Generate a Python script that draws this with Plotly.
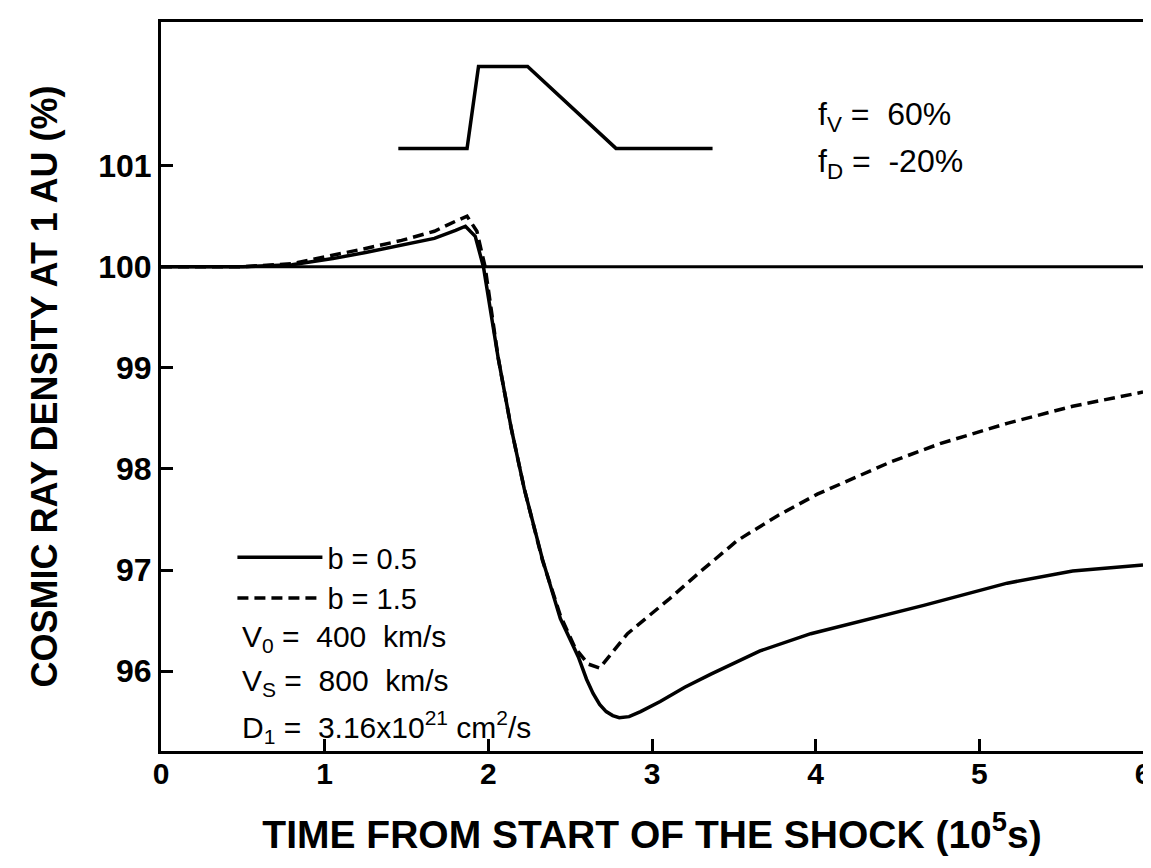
import plotly.graph_objects as go

# ---- data ----
t_b05 = [0.0, 0.5, 0.8, 1.05, 1.25, 1.47, 1.67, 1.8, 1.86, 1.92, 1.97, 2.06, 2.14, 2.22,
         2.33, 2.44, 2.55, 2.6, 2.64, 2.68, 2.72, 2.76, 2.8, 2.86, 2.93, 3.05, 3.2, 3.36,
         3.66, 3.97, 4.27, 4.66, 5.17, 5.57, 6.0]
n_b05 = [100.0, 100.0, 100.02, 100.08, 100.14, 100.21, 100.28, 100.36, 100.40, 100.30,
         100.0, 99.1, 98.4, 97.8, 97.11, 96.52, 96.14, 95.92, 95.78, 95.67, 95.6, 95.56,
         95.54, 95.55, 95.6, 95.7, 95.84, 95.97, 96.2, 96.37, 96.49, 96.65, 96.87, 96.99,
         97.05]

t_b15 = [0.0, 0.5, 0.8, 1.05, 1.25, 1.47, 1.67, 1.8, 1.87, 1.93, 1.98, 2.06, 2.14, 2.22,
         2.33, 2.44, 2.48, 2.53, 2.61, 2.68, 2.75, 2.85, 3.11, 3.3, 3.52, 3.77, 4.01,
         4.27, 4.46, 4.76, 5.17, 5.57, 6.0]
n_b15 = [100.0, 100.0, 100.03, 100.11, 100.18, 100.26, 100.35, 100.45, 100.50, 100.35,
         100.0, 99.1, 98.4, 97.8, 97.1, 96.55, 96.40, 96.23, 96.07, 96.03, 96.17, 96.37,
         96.72, 96.99, 97.29, 97.54, 97.75, 97.94, 98.07, 98.25, 98.45, 98.62, 98.76]

# reference level
ref_t = [0.0, 6.0]
ref_n = [100.0, 100.0]

# inset: shock speed profile (schematic, drawn in the same axes)
prof_t = [1.45, 1.87, 1.94, 2.24, 2.78, 3.37]
prof_n = [101.17, 101.17, 101.98, 101.98, 101.17, 101.17]

x_ticks = [0, 1, 2, 3, 4, 5, 6]
y_ticks = [96, 97, 98, 99, 100, 101]

FONT = "Liberation Sans"
BLACK = "#000000"

# figure margins (px)
ML, MR, MT, MB = 153, 8, 14, 125
W, H = 1151, 868
OFF_X, OFF_Y = 7, 6  # page offset observed in the rendered picture

fig = go.Figure()

fig.add_trace(go.Scatter(x=ref_t, y=ref_n, mode="lines", showlegend=False,
                         line=dict(color=BLACK, width=3), hoverinfo="skip"))
fig.add_trace(go.Scatter(x=prof_t, y=prof_n, mode="lines", showlegend=False,
                         line=dict(color=BLACK, width=3.5)))
fig.add_trace(go.Scatter(x=t_b05, y=n_b05, mode="lines", name="b = 0.5",
                         line=dict(color=BLACK, width=3.5)))
fig.add_trace(go.Scatter(x=t_b15, y=n_b15, mode="lines", name="b = 1.5",
                         line=dict(color=BLACK, width=3.5, dash="11px,6px")))


def px_x(px):
    # screen px -> paper x
    return (px - OFF_X - ML) / float(W - ML - MR)


def px_y(py):
    # screen px -> paper y
    return (H - MB + OFF_Y - py) / float(H - MT - MB)


par_font = dict(family=FONT, size=30, color=BLACK)
f_font = dict(family=FONT, size=32, color=BLACK)
SP = "&nbsp;"

annotations = [
    dict(text="V<sub>0</sub> =" + SP * 2 + "400" + SP * 2 + "km/s", x=px_x(240), y=px_y(636), font=par_font),
    dict(text="V<sub>S</sub> =" + SP * 2 + "800" + SP * 2 + "km/s", x=px_x(240), y=px_y(680), font=par_font),
    dict(text="D<sub>1</sub> =" + SP + " 3.16x10<sup>21</sup> cm<sup>2</sup>/s", x=px_x(240), y=px_y(725), font=par_font),
    dict(text="f<sub>V</sub> =" + SP + " 60%", x=px_x(820), y=px_y(114), font=f_font),
    dict(text="f<sub>D</sub> =" + SP + " -20%", x=px_x(820), y=px_y(162), font=f_font),
]
for a in annotations:
    a.update(xref="paper", yref="paper", xanchor="left", yanchor="middle", showarrow=False)

fig.update_layout(
    width=W, height=H,
    margin=dict(l=ML, r=MR, t=MT, b=MB),
    paper_bgcolor="white", plot_bgcolor="white",
    font=dict(family=FONT, color=BLACK),
    showlegend=True,
    legend=dict(x=px_x(232), y=px_y(530), xanchor="left", yanchor="top",
                bgcolor="rgba(0,0,0,0)", font=dict(family=FONT, size=29, color=BLACK),
                tracegroupgap=0, itemwidth=85),
    annotations=annotations,
)

fig.update_xaxes(
    range=[0, 6], tickvals=x_ticks, ticktext=[str(v) for v in x_ticks],
    showgrid=False, zeroline=False,
    showline=True, linecolor=BLACK, linewidth=3, mirror=True,
    ticks="inside", ticklen=12, tickwidth=3, tickcolor=BLACK,
    ticklabelstandoff=-6,
    tickfont=dict(family=FONT, size=30, color=BLACK, weight="bold"),
    title=dict(text="TIME FROM START OF THE SHOCK (10<sup>5</sup>s)",
               font=dict(family=FONT, size=39, color=BLACK, weight="bold"), standoff=32),
)
fig.update_yaxes(
    range=[95.21, 102.42], tickvals=y_ticks, ticktext=[str(v) for v in y_ticks],
    showgrid=False, zeroline=False,
    showline=True, linecolor=BLACK, linewidth=3, mirror=True,
    ticks="inside", ticklen=12, tickwidth=3, tickcolor=BLACK,
    tickfont=dict(family=FONT, size=32, color=BLACK, weight="bold"),
    title=dict(text="COSMIC RAY DENSITY AT 1 AU (%)",
               font=dict(family=FONT, size=36, color=BLACK, weight="bold"), standoff=30),
)

fig.write_html("out.html")
